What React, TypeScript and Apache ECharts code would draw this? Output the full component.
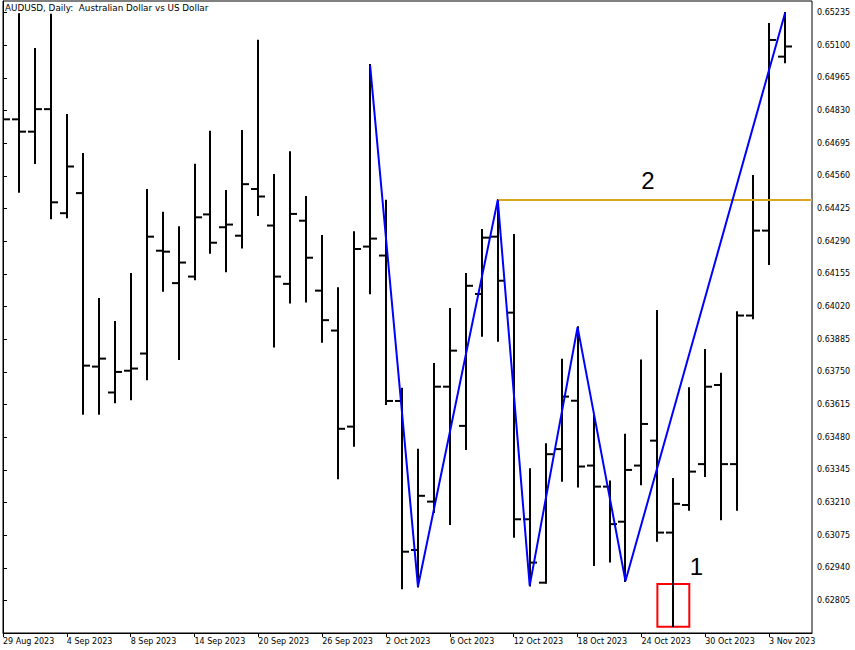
import { useEffect, useRef } from "react";
import * as echarts from "echarts";

// ---- data ----
const dates = [
  "29 Aug 2023", "30 Aug 2023", "31 Aug 2023", "1 Sep 2023", "4 Sep 2023", "5 Sep 2023", "6 Sep 2023",
  "7 Sep 2023", "8 Sep 2023", "11 Sep 2023", "12 Sep 2023", "13 Sep 2023", "14 Sep 2023", "15 Sep 2023",
  "18 Sep 2023", "19 Sep 2023", "20 Sep 2023", "21 Sep 2023", "22 Sep 2023", "25 Sep 2023", "26 Sep 2023",
  "27 Sep 2023", "28 Sep 2023", "29 Sep 2023", "2 Oct 2023", "3 Oct 2023", "4 Oct 2023", "5 Oct 2023",
  "6 Oct 2023", "9 Oct 2023", "10 Oct 2023", "11 Oct 2023", "12 Oct 2023", "13 Oct 2023", "16 Oct 2023",
  "17 Oct 2023", "18 Oct 2023", "19 Oct 2023", "20 Oct 2023", "23 Oct 2023", "24 Oct 2023", "25 Oct 2023",
  "26 Oct 2023", "27 Oct 2023", "30 Oct 2023", "31 Oct 2023", "1 Nov 2023", "2 Nov 2023", "3 Nov 2023",
  "6 Nov 2023",
];

const opens = [
  0.6475, 0.64794, 0.64743, 0.64836, 0.64406, 0.64489, 0.63772, 0.63665, 0.63755, 0.63826,
  0.64251, 0.64117, 0.64144, 0.64401, 0.64348, 0.64313, 0.64506, 0.64355, 0.64114, 0.64375,
  0.64086, 0.63921, 0.63524, 0.64268, 0.64231, 0.6363, 0.63014, 0.63214, 0.63689, 0.63527,
  0.64072, 0.64309, 0.63995, 0.63141, 0.62879, 0.63431, 0.63631, 0.63363, 0.63276, 0.63131,
  0.63363, 0.63466, 0.63086, 0.632, 0.63369, 0.63696, 0.63369, 0.63983, 0.64334, 0.65053,
];
const highs = [
  0.649, 0.65228, 0.65085, 0.65226, 0.64812, 0.64651, 0.64051, 0.63956, 0.64155, 0.64502,
  0.64408, 0.64348, 0.64606, 0.64743, 0.64498, 0.64746, 0.65119, 0.64564, 0.64658, 0.64473,
  0.64312, 0.64096, 0.64327, 0.65018, 0.64457, 0.6368, 0.63428, 0.63783, 0.6401, 0.64155,
  0.64337, 0.64461, 0.64316, 0.63348, 0.63451, 0.638, 0.63935, 0.63568, 0.63297, 0.6349,
  0.63797, 0.64002, 0.63307, 0.63683, 0.63841, 0.63742, 0.63997, 0.6456, 0.65188, 0.65233,
];
const lows = [
  0.6465, 0.64495, 0.64613, 0.64385, 0.64389, 0.63577, 0.63577, 0.63625, 0.63637, 0.6372,
  0.64086, 0.63803, 0.64133, 0.64243, 0.64166, 0.64264, 0.64399, 0.63855, 0.64037, 0.64041,
  0.63875, 0.63311, 0.63445, 0.64075, 0.63617, 0.62856, 0.62863, 0.63171, 0.63121, 0.63431,
  0.639, 0.63879, 0.63069, 0.62867, 0.62879, 0.633, 0.63276, 0.62952, 0.62966, 0.62886,
  0.63286, 0.63052, 0.627, 0.6318, 0.6332, 0.63141, 0.6318, 0.63972, 0.64196, 0.6503,
];
const closes = [
  0.64794, 0.64743, 0.64836, 0.64451, 0.64599, 0.63776, 0.63805, 0.6375, 0.63764, 0.64309,
  0.64247, 0.64202, 0.64389, 0.64284, 0.64359, 0.64526, 0.64475, 0.64144, 0.64403, 0.64222,
  0.63964, 0.63515, 0.64258, 0.64301, 0.6363, 0.63007, 0.63238, 0.63689, 0.63838, 0.64106,
  0.64305, 0.64127, 0.63141, 0.62962, 0.6341, 0.63648, 0.63359, 0.63276, 0.63121, 0.63345,
  0.63535, 0.63086, 0.63205, 0.63338, 0.63689, 0.63369, 0.63983, 0.64334, 0.65122, 0.65095,
];

// ZigZag pivots: bar index and whether it is a high (true) or a low (false)
const zigzagIdx = [23, 26, 31, 33, 36, 39, 49];
const zigzagIsHigh = [true, false, true, false, true, false, true];

// Horizontal level drawn from the high of this bar
const levelBar = 31;

// Box around the low of bar 42
const boxX = [41, 43];
const boxY = [0.62873, 0.62697];

// Text annotations
const noteText = ["2", "1"];
const noteX = [40.4, 43.44];
const noteY = [0.64542, 0.62944];

const xLabelIdx = [0, 4, 8, 12, 16, 20, 24, 28, 32, 36, 40, 44, 48];
const yTicks = [
  0.62805, 0.6294, 0.63075, 0.6321, 0.63345, 0.6348, 0.63615, 0.6375, 0.63885, 0.6402,
  0.64155, 0.6429, 0.64425, 0.6456, 0.64695, 0.6483, 0.64965, 0.651, 0.65235,
];

const Y_MIN = 0.62671;
const Y_MAX = 0.65283;
const X_MIN = 0;
const X_MAX = 50.6875;

export default function App() {
  const ref = useRef<HTMLDivElement>(null);

  useEffect(() => {
    if (!ref.current) return;
    const chart = echarts.init(ref.current, null, { renderer: "svg" });

    const ohlc = dates.map((_, i) => [i, opens[i], closes[i], lows[i], highs[i]]);
    const zz = zigzagIdx.map((idx, k) => [idx, zigzagIsHigh[k] ? highs[idx] : lows[idx]]);
    const level = highs[levelBar];
    const notes = noteText.map((t, k) => ({ value: [noteX[k], noteY[k]], name: t }));

    const font = "DejaVu Sans";

    chart.setOption({
      animation: false,
      backgroundColor: "#ffffff",
      graphic: [
        {
          type: "text",
          left: 5,
          top: 3,
          style: {
            text: "AUDUSD, Daily:  Australian Dollar vs US Dollar",
            fontFamily: font,
            fontSize: 8.8,
            fill: "#000",
          },
          z: 100,
        },
      ],
      grid: {
        left: 1,
        top: 1,
        width: 811,
        height: 632,
        show: true,
        borderColor: "#000",
        borderWidth: 1,
        backgroundColor: "#fff",
      },
      xAxis: {
        type: "value",
        min: X_MIN,
        max: X_MAX,
        splitLine: { show: false },
        axisLine: { show: true, lineStyle: { color: "#000", width: 1 } },
        axisTick: { show: true, length: 4, customValues: xLabelIdx, lineStyle: { color: "#000" } },
        axisLabel: {
          customValues: xLabelIdx,
          formatter: (v: number) => dates[Math.round(v)] ?? "",
          align: "left",
          margin: 4,
          fontFamily: font,
          fontSize: 8,
          color: "#000",
        },
      },
      yAxis: {
        type: "value",
        position: "right",
        min: Y_MIN,
        max: Y_MAX,
        scale: true,
        splitLine: { show: false },
        axisLine: { show: true, lineStyle: { color: "#000", width: 1 } },
        axisTick: { show: true, length: 4, customValues: yTicks, lineStyle: { color: "#000" } },
        axisLabel: {
          customValues: yTicks,
          formatter: (v: number) => v.toFixed(5),
          margin: 5,
          fontFamily: font,
          fontSize: 8,
          color: "#000",
        },
      },
      series: [
        {
          type: "custom",
          name: "AUDUSD",
          data: ohlc,
          clip: true,
          encode: { x: 0, y: [1, 2, 3, 4] },
          renderItem: (params: any, api: any) => {
            const i = api.value(0);
            const o = api.coord([i, api.value(1)]);
            const c = api.coord([i, api.value(2)]);
            const l = api.coord([i, api.value(3)]);
            const h = api.coord([i, api.value(4)]);
            const px = Math.round(o[0]);
            const st = { stroke: "#000", lineWidth: 2 };
            return {
              type: "group",
              children: [
                { type: "line", shape: { x1: px, y1: h[1] - 1, x2: px, y2: l[1] + 1 }, style: st },
                { type: "line", shape: { x1: px - 7, y1: o[1], x2: px, y2: o[1] }, style: st },
                { type: "line", shape: { x1: px, y1: c[1], x2: px + 7, y2: c[1] }, style: st },
              ],
            };
          },
          z: 2,
        },
        {
          type: "line",
          name: "Level",
          data: [
            [levelBar, level],
            [X_MAX, level],
          ],
          showSymbol: false,
          symbol: "none",
          lineStyle: { color: "#DAA520", width: 2 },
          z: 3,
        },
        {
          type: "line",
          name: "ZigZag",
          data: zz,
          showSymbol: false,
          symbol: "none",
          lineStyle: { color: "#0000FF", width: 2 },
          z: 4,
          markArea: {
            silent: true,
            itemStyle: { color: "rgba(0,0,0,0)", borderColor: "#FF0000", borderWidth: 2 },
            data: [[{ coord: [boxX[0], boxY[0]] }, { coord: [boxX[1], boxY[1]] }]],
          },
        },
        {
          type: "scatter",
          name: "Notes",
          data: notes,
          symbolSize: 1,
          itemStyle: { color: "#fff", opacity: 1 },
          label: {
            show: true,
            position: "inside",
            formatter: (p: any) => p.name,
            fontFamily: "Liberation Sans",
            fontSize: 24,
            color: "#000",
            opacity: 1,
            textBorderWidth: 0,
          },
          z: 5,
        },
      ],
    });

    return () => chart.dispose();
  }, []);

  return (
    <div
      ref={ref}
      style={{ position: "fixed", left: 0, top: 0, width: 855, height: 650, background: "#fff" }}
    />
  );
}
